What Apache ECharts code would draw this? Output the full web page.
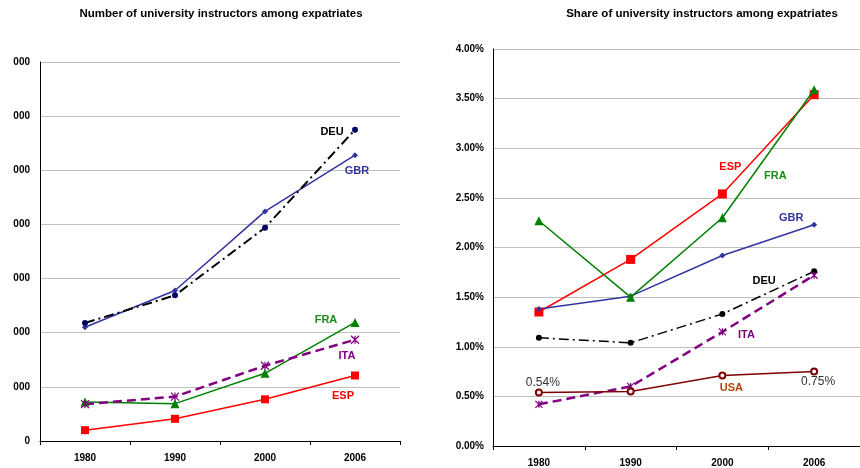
<!DOCTYPE html>
<html>
<head>
<meta charset="utf-8">
<script src="https://cdn.jsdelivr.net/npm/echarts@6/dist/echarts.min.js"></script>
<style>
  html, body { margin: 0; padding: 0; background: #fff; }
  #chart { width: 860px; height: 468px; }
</style>
</head>
<body>
<div id="chart"></div>
<script>
  // 年份
  var years = ['1980', '1990', '2000', '2006'];

  // left: number of instructors (axis labels were cut, gridline step 1000)
  var numDEU = [2180, 2690, 3940, 5750];
  var numGBR = [2100, 2780, 4240, 5280];
  var numFRA = [720, 690, 1250, 2190];
  var numITA = [680, 820, 1390, 1870];
  var numESP = [200, 410, 770, 1210];

  // right: share in percent
  var shrESP = [1.35, 1.88, 2.54, 3.54];
  var shrFRA = [2.27, 1.50, 2.30, 3.59];
  var shrGBR = [1.38, 1.51, 1.92, 2.23];
  var shrDEU = [1.09, 1.04, 1.33, 1.76];
  var shrITA = [0.42, 0.60, 1.15, 1.72];
  var shrUSA = [0.54, 0.55, 0.71, 0.75];

  var leftTicks = [0, 1000, 2000, 3000, 4000, 5000, 6000, 7000];

  var myChart = echarts.init(document.getElementById('chart'));

  var asterisk = 'path://M0,0L10,10M10,0L0,10M5,0L5,10';
  var dashDot = [10, 4, 2, 4];
  var font = 'Liberation Sans, Arial, sans-serif';

  // put a text label on one point of a series
  function withLabel(values, idx, text, color, offset, bold) {
    return values.map(function (v, i) {
      if (i !== idx) return v;
      return {
        value: v,
        label: {
          show: true,
          position: 'inside',
          offset: offset,
          formatter: text,
          color: color,
          fontSize: bold === false ? 12 : 11,
          fontWeight: bold === false ? 'normal' : 'bold',
          fontFamily: font
        }
      };
    });
  }

  function line(axis, name, data, color, symbol, size, lineType, width, extra) {
    var s = {
      name: name,
      type: 'line',
      xAxisIndex: axis,
      yAxisIndex: axis,
      data: data,
      symbol: symbol,
      symbolSize: size,
      showAllSymbol: true,
      animation: false,
      lineStyle: { color: color, width: width, type: lineType },
      itemStyle: { color: color }
    };
    for (var k in extra) s[k] = extra[k];
    return s;
  }

  var axisFont = { fontSize: 10, fontWeight: 'bold', color: '#000', fontFamily: font };
  var titleStyle = { fontSize: 11.5, fontWeight: 'bold', color: '#000', fontFamily: font };

  var option = {
    backgroundColor: '#fff',
    title: [
      {
        text: 'Number of university instructors among expatriates',
        left: 221, top: 8, padding: 0, textAlign: 'center',
        textStyle: titleStyle
      },
      {
        text: 'Share of university instructors among expatriates',
        left: 702, top: 8, padding: 0, textAlign: 'center',
        textStyle: titleStyle
      }
    ],
    grid: [
      { left: 40, top: 62, width: 360, height: 379 },
      { left: 493, top: 49, width: 376, height: 398 }
    ],
    xAxis: [0, 1].map(function (i) {
      return {
        type: 'category',
        gridIndex: i,
        data: years,
        axisLine: { lineStyle: { color: '#000', width: 1 } },
        axisTick: { show: true, length: 4, lineStyle: { color: '#000' } },
        axisLabel: Object.assign({ margin: 12 }, axisFont)
      };
    }),
    yAxis: [
      {
        type: 'value', gridIndex: 0,
        min: 0, max: leftTicks[leftTicks.length - 1], interval: 1000,
        axisLine: { show: true, lineStyle: { color: '#000', width: 1 } },
        axisTick: { show: false },
        splitLine: { lineStyle: { color: '#c0c0c0', width: 1 } },
        axisLabel: Object.assign({
          margin: 10,
          formatter: function (v) { return v === 0 ? '0' : '000'; }
        }, axisFont)
      },
      {
        type: 'value', gridIndex: 1,
        min: 0, max: 4, interval: 0.5,
        axisLine: { show: true, lineStyle: { color: '#000', width: 1 } },
        axisTick: { show: false },
        splitLine: { lineStyle: { color: '#c0c0c0', width: 1 } },
        axisLabel: Object.assign({
          margin: 9,
          formatter: function (v) { return v.toFixed(2) + '%'; }
        }, axisFont)
      }
    ],
    series: [
      // left chart
      line(0, 'DEU', withLabel(numDEU, 3, 'DEU', '#000', [-23, 2]), '#000', 'circle', 6, dashDot, 2,
        { itemStyle: { color: '#000066' }, z: 3 }),
      line(0, 'GBR', withLabel(numGBR, 3, 'GBR', '#3333a0', [2, 16]), '#3333a0', 'diamond', 6, 'solid', 1.5, { z: 2 }),
      line(0, 'FRA', withLabel(numFRA, 3, 'FRA', '#1a8c1a', [-29, -2]), '#008000', 'triangle', 9, 'solid', 1.5, {}),
      line(0, 'ITA', withLabel(numITA, 3, 'ITA', '#800080', [-8, 16]), '#800080', asterisk, 8, [9, 5], 2.5,
        { itemStyle: { color: '#800080', borderColor: '#800080', borderWidth: 1.2 } }),
      line(0, 'ESP', withLabel(numESP, 3, 'ESP', '#ff0000', [-12, 20]), '#ff0000', 'rect', 8, 'solid', 1.5, {}),

      // right chart
      line(1, 'ESP', withLabel(shrESP, 2, 'ESP', '#ff0000', [8, -27]), '#ff0000', 'rect', 9, 'solid', 1.5, { z: 3 }),
      line(1, 'FRA', withLabel(shrFRA, 2, 'FRA', '#1a8c1a', [53, -42]), '#008000', 'triangle', 9, 'solid', 1.5, { z: 4 }),
      line(1, 'GBR', withLabel(shrGBR, 3, 'GBR', '#3333a0', [-23, -7]), '#3333a0', 'diamond', 6, 'solid', 1.5, {}),
      line(1, 'DEU', withLabel(shrDEU, 3, 'DEU', '#000', [-50, 10]), '#000', 'circle', 6, dashDot, 1.5, {}),
      line(1, 'ITA', withLabel(shrITA, 2, 'ITA', '#800080', [24, 3]), '#800080', asterisk, 7, [9, 5], 2.5,
        { itemStyle: { color: '#800080', borderColor: '#800080', borderWidth: 1.2 } }),
      line(1, 'USA', shrUSA.map(function (v, i) {
          if (i === 0) return withLabel(shrUSA, 0, '0.54%', '#333', [4, -10], false)[0];
          if (i === 2) return withLabel(shrUSA, 2, 'USA', '#b8400f', [9, 12])[2];
          if (i === 3) return withLabel(shrUSA, 3, '0.75%', '#333', [4, 10], false)[3];
          return v;
        }), '#800000', 'emptyCircle', 6, 'solid', 1.5,
        { itemStyle: { color: '#800000', borderWidth: 1 } })
    ]
  };

  myChart.setOption(option);
</script>
</body>
</html>
